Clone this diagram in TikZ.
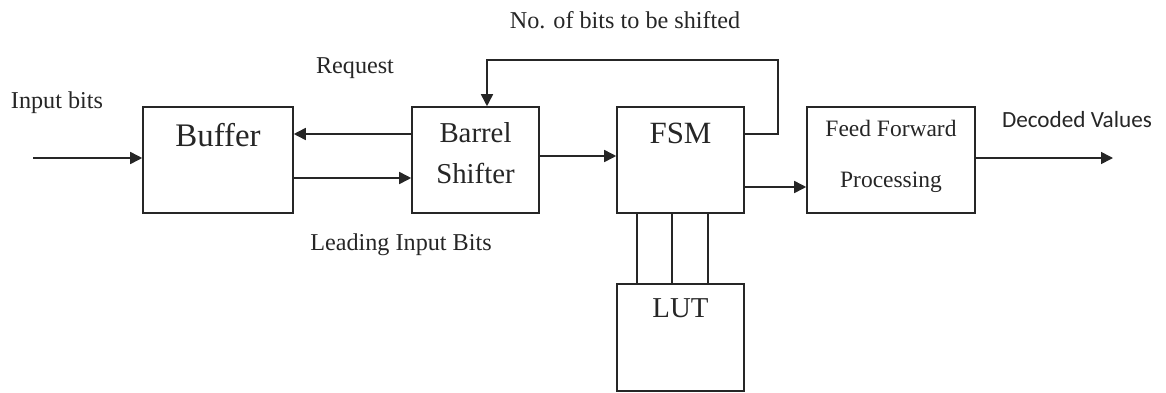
\documentclass[tikz,border=0pt]{standalone}
\usepackage{fontspec}
\setmainfont{Liberation Serif}
\newfontfamily\calibrifont{Carlito}
\usepackage{tikz}
\usetikzlibrary{
  arrows.meta
}
\tikzset{
  block/.style={
    draw=black!85,
    line width=1.1pt,
    minimum width=3.175cm,
    minimum height=2.65cm,
    inner sep=0pt
  },
  blocktext/.style={
    inner sep=0pt,
    text=black!85
  },
  signal/.style={
    line width=1.1pt,
    draw=black!85,
    -{Triangle[length=3mm,width=3mm]}
  },
  bus/.style={
    line width=1.1pt,
    draw=black!85
  },
  caption/.style={
    inner sep=0pt,
    text=black!85,
    font=\fontsize{17.2}{20}\selectfont
  }
}

\begin{document}
\begin{tikzpicture}
  \useasboundingbox (0,0) rectangle (29.15,9.8);

  % ---------- Blocks ----------
  \node[block, minimum width=3.75cm] (buffer) at (5.45,5.8) {};
  \node[block] (barrel) at (11.8875,5.8) {};
  \node[block] (fsm) at (17.0125,5.8) {};
  \node[block, minimum width=4.2cm] (feed) at (22.275,5.8) {};
  \node[block, minimum height=2.675cm] (lut) at (17.0125,1.3625) {};

  % Texte in den Blöcken
  \node[blocktext, font=\fontsize{23.4}{26}\selectfont] (buffertxt) at (5.45,6.425) {Buffer};
  \node[blocktext, font=\fontsize{20.5}{24}\selectfont] (barreltxt) at (11.8875,6.475) {Barrel};
  \node[blocktext, font=\fontsize{20.5}{24}\selectfont] (shiftertxt) at (11.8875,5.475) {Shifter};
  \node[blocktext, font=\fontsize{22}{26}\selectfont] (fsmtxt) at (17.0125,6.475) {FSM};
  \node[blocktext, font=\fontsize{16.7}{20}\selectfont] (feedtxt) at (22.275,6.6) {Feed Forward};
  \node[blocktext, font=\fontsize{16.7}{20}\selectfont] (proctxt) at (22.275,5.25) {Processing};
  \node[blocktext, font=\fontsize{20.5}{24}\selectfont] (luttxt) at (17.0125,2.1) {LUT};

  % ---------- Verbindungen ----------
  \coordinate (in) at (0.825,5.85);
  \coordinate (out) at (27.825,5.85);
  \coordinate (loop) at (19.45,8.3);

  \draw[signal] (in) -- ([yshift=0.05cm]buffer.west);
  \draw[signal] ([yshift=0.65cm]barrel.west) -- ([yshift=0.65cm]buffer.east);
  \draw[signal] ([yshift=-0.45cm]buffer.east) -- ([yshift=-0.45cm]barrel.west);
  \draw[signal] ([yshift=0.1cm]barrel.east) -- ([yshift=0.1cm]fsm.west);
  \draw[signal] ([yshift=-0.675cm]fsm.east) -- ([yshift=-0.675cm]feed.west);
  \draw[signal] ([yshift=0.05cm]feed.east) -- (out);

  % Rückführung FSM -> Barrel Shifter
  \draw[signal] ([yshift=0.65cm]fsm.east) -| (loop) -| ([xshift=0.2875cm]barrel.north);

  % FSM <-> LUT
  \foreach \dx in {-1.0875,-0.2125,0.6875}
    \draw[bus] ([xshift=\dx cm]fsm.south) -- ([xshift=\dx cm]lut.north);

  % ---------- Beschriftungen ----------
  \node[caption] (inlabel) at (1.425,7.225) {Input bits};
  \node[caption] (reqlabel) at (8.875,8.1) {Request};
  \node[caption] (shiftlabel) at (15.625,9.3) {No. of bits to be shifted};
  \node[caption] (leadlabel) at (10.025,3.675) {Leading Input Bits};
  \node[caption, font=\calibrifont\fontsize{16.5}{19}\selectfont] (outlabel) at (26.925,6.8) {Decoded Values};

\end{tikzpicture}
\end{document}
